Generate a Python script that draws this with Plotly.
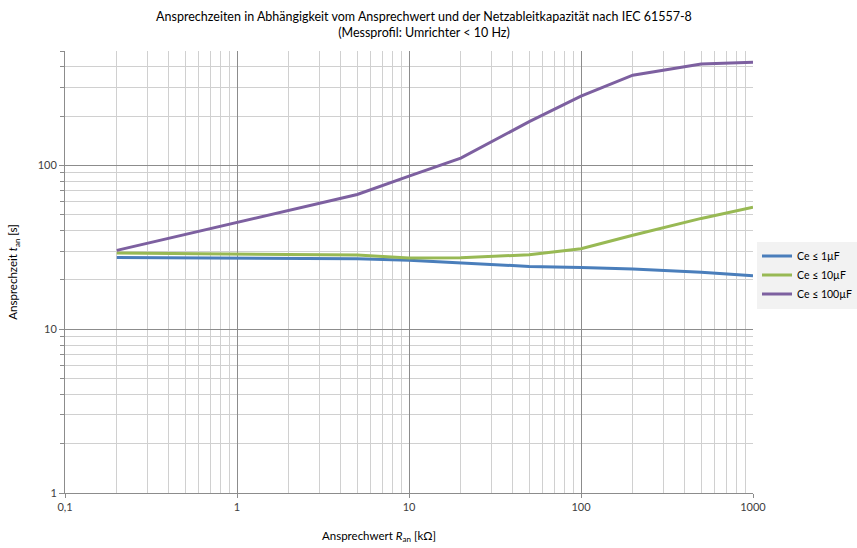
import plotly.graph_objects as go
import math

x_kohm = [0.2, 0.5, 1, 2, 5, 10, 20, 50, 100, 200, 500, 1000]
t_1uF = [27.4, 27.3, 27.2, 27.1, 26.9, 26.4, 25.4, 24.2, 23.8, 23.3, 22.3, 21.2]
t_10uF = [29.2, 29.0, 28.9, 28.8, 28.4, 27.2, 27.3, 28.5, 31.0, 37.5, 47.5, 55.5]
t_100uF = [30.3, 38.0, 45.0, 53.0, 66.5, 86.0, 111.0, 185.0, 265.0, 356.0, 417.0, 427.0]

series_names = ["Ce ≤ 1µF", "Ce ≤ 10µF", "Ce ≤ 100µF"]
series_colors = ["#4A7EBB", "#98B954", "#7D60A0"]

x_tickvals = [0.1, 1, 10, 100, 1000]
x_ticktext = ["0,1", "1", "10", "100", "1000"]
y_tickvals = [1, 10, 100]
y_ticktext = ["1", "10", "100"]

fig = go.Figure()
for name, color, ys in zip(series_names, series_colors, [t_1uF, t_10uF, t_100uF]):
    fig.add_trace(go.Scatter(x=x_kohm, y=ys, mode="lines", name=name,
                             line=dict(color=color, width=3)))

font_family = "Lato, 'Open Sans', sans-serif"
major_grid = "#8C8C8C"
minor_grid = "#D0D0D0"

fig.update_layout(
    width=857, height=548,
    margin=dict(l=65, r=104, t=51, b=55, autoexpand=False),
    paper_bgcolor="white", plot_bgcolor="white",
    font=dict(family=font_family, size=11, color="#404040"),
    separators=",.",
    title=dict(
        text="Ansprechzeiten in Abhängigkeit vom Ansprechwert und der Netzableitkapazität nach IEC 61557-8<br>(Messprofil: Umrichter < 10 Hz)",
        x=424 / 857, xanchor="center", xref="container",
        y=1 - 21 / 548, yanchor="middle", yref="container",
        font=dict(family=font_family, size=12.5, color="#000000"),
    ),
    legend=dict(
        xref="container", yref="container",
        x=757 / 857, xanchor="left", y=1 - 275 / 548, yanchor="middle",
        bgcolor="#F2F2F2", font=dict(size=10.5, color="#000000"),
        tracegroupgap=2, itemwidth=30,
    ),
    xaxis=dict(
        type="log", range=[-1, 3],
        tickvals=x_tickvals, ticktext=x_ticktext,
        showgrid=True, gridcolor=major_grid, gridwidth=1,
        showline=True, linecolor="#8C8C8C", linewidth=1,
        ticks="outside", ticklen=4, tickcolor="#8C8C8C",
        minor=dict(dtick="D1", showgrid=True, gridcolor=minor_grid, gridwidth=1),
        zeroline=False,
        tickfont=dict(size=11, color="#404040"),
    ),
    yaxis=dict(
        type="log", range=[0, math.log10(500)],
        tickvals=y_tickvals, ticktext=y_ticktext,
        showgrid=True, gridcolor=major_grid, gridwidth=1,
        showline=True, linecolor="#8C8C8C", linewidth=1,
        ticks="outside", ticklen=5, tickcolor="#8C8C8C",
        minor=dict(dtick="D1", showgrid=True, gridcolor=minor_grid, gridwidth=1,
                   ticks="outside", ticklen=4, tickcolor="#8C8C8C"),
        zeroline=False,
        tickfont=dict(size=11, color="#404040"),
        title=dict(text="Ansprechzeit <i>t</i><sub>an</sub> [s]", standoff=17,
                   font=dict(size=11.5, color="#000000")),
    ),
    annotations=[dict(
        text="Ansprechwert <i>R</i><sub>an</sub> [kΩ]",
        xref="paper", yref="paper",
        x=(379 - 65) / 688, y=(493 - 537) / 442.3,
        xanchor="center", yanchor="middle", showarrow=False,
        font=dict(size=11.5, color="#000000"),
    )],
)

fig.write_html("out.html")
